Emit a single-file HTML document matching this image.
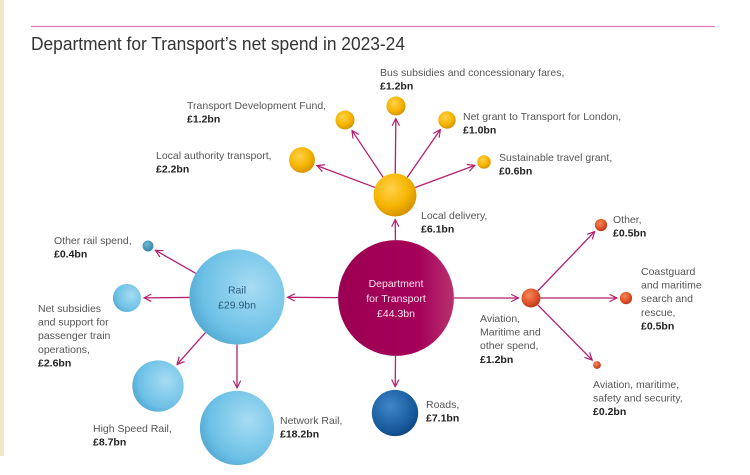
<!DOCTYPE html>
<html><head><meta charset="utf-8">
<style>
html,body{margin:0;padding:0;background:#fff;}
svg{display:block;font-family:"Liberation Sans",sans-serif;}
</style></head>
<body>
<svg id="chart" width="750" height="475" viewBox="0 0 750 475">
<defs>
<radialGradient id="gYel" cx="40%" cy="35%" r="70%"><stop offset="0" stop-color="#ffd24a"/><stop offset="0.6" stop-color="#f5b400"/><stop offset="1" stop-color="#d08e00"/></radialGradient>
<radialGradient id="gBlue" cx="65%" cy="40%" r="75%"><stop offset="0" stop-color="#a6dcf3"/><stop offset="0.7" stop-color="#6cc0e6"/><stop offset="1" stop-color="#4a9fc9"/></radialGradient>
<radialGradient id="gTeal" cx="40%" cy="35%" r="75%"><stop offset="0" stop-color="#6cb8d6"/><stop offset="1" stop-color="#2f7fa3"/></radialGradient>
<radialGradient id="gDark" cx="40%" cy="35%" r="75%"><stop offset="0" stop-color="#3f86c8"/><stop offset="0.7" stop-color="#175a9c"/><stop offset="1" stop-color="#0c3e72"/></radialGradient>
<linearGradient id="gDft" x1="0" x2="1" y1="0" y2="0"><stop offset="0" stop-color="#9c0052"/><stop offset="0.7" stop-color="#a5005a"/><stop offset="1" stop-color="#b8326e"/></linearGradient>
<radialGradient id="gOr" cx="40%" cy="35%" r="70%"><stop offset="0" stop-color="#f58a5a"/><stop offset="0.6" stop-color="#e0522a"/><stop offset="1" stop-color="#b03618"/></radialGradient>
<marker id="arr" viewBox="0 0 10 10" refX="9" refY="5" markerWidth="7" markerHeight="7" orient="auto"><path d="M1,1 L9,5 L1,9" fill="none" stroke="#b3206f" stroke-width="1.3"/></marker>
</defs>
<rect x="0" y="0" width="4" height="456" fill="#f3e6c8"/>
<line x1="31" y1="26.5" x2="715" y2="26.5" stroke="#e07bb0" stroke-width="1.2"/>
<text x="31" y="50" font-size="18" fill="#333" textLength="374" lengthAdjust="spacingAndGlyphs">Department for Transport’s net spend in 2023-24</text>
<g id="links"></g>
<g id="bubbles"></g>
<g id="labels"></g>
</svg>
<script>
// data
const names = ["Department for Transport","Rail","Local delivery","Aviation, Maritime and other spend","Roads","Bus subsidies and concessionary fares","Transport Development Fund","Net grant to Transport for London","Local authority transport","Sustainable travel grant","Other","Coastguard and maritime search and rescue","Aviation, maritime, safety and security","Other rail spend","Net subsidies and support for passenger train operations","High Speed Rail","Network Rail"];
const values = [44.3,29.9,6.1,1.2,7.1,1.2,1.2,1.0,2.2,0.6,0.5,0.5,0.2,0.4,2.6,8.7,18.2];
const valueLabels = ["£44.3bn","£29.9bn","£6.1bn","£1.2bn","£7.1bn","£1.2bn","£1.2bn","£1.0bn","£2.2bn","£0.6bn","£0.5bn","£0.5bn","£0.2bn","£0.4bn","£2.6bn","£8.7bn","£18.2bn"];
const parents = [-1,0,0,0,0,2,2,2,2,2,3,3,3,1,1,1,1];
// layout (positions only)
const cx = [396,237,395,531,395,396,345,447,302,484,601,626,597,148,127,158,237];
const cy = [298,297,195,298,413,106,120,120,160,162,225,298,365,246,298,386,428];
const fills = ["url(#gDft)","url(#gBlue)","url(#gYel)","url(#gOr)","url(#gDark)","url(#gYel)","url(#gYel)","url(#gYel)","url(#gYel)","url(#gYel)","url(#gOr)","url(#gOr)","url(#gOr)","url(#gTeal)","url(#gBlue)","url(#gBlue)","url(#gBlue)"];
const labelX = [0,0,421,480,426,380,187,463,156,499,613,641,593,54,38,93,280];
const labelY = [0,0,215,318,404,72,105,116,155,157,219,271,384,240,308,428,420];
const labelLines = [null,null,["Local delivery,"],["Aviation,","Maritime and","other spend,"],["Roads,"],["Bus subsidies and concessionary fares,"],["Transport Development Fund,"],["Net grant to Transport for London,"],["Local authority transport,"],["Sustainable travel grant,"],["Other,"],["Coastguard","and maritime","search and","rescue,"],["Aviation, maritime,","safety and security,"],["Other rail spend,"],["Net subsidies","and support for","passenger train","operations,"],["High Speed Rail,"],["Network Rail,"]];
const K = 8.7;
const rOf = v => Math.sqrt(v) * K;
const NS = "http://www.w3.org/2000/svg";
const gL = document.getElementById("links"), gB = document.getElementById("bubbles"), gT = document.getElementById("labels");
function mk(tag, attrs){const e=document.createElementNS(NS,tag);for(const k in attrs)e.setAttribute(k,attrs[k]);return e;}
values.forEach((v,i)=>{
  const p = parents[i];
  if(p>=0){
    const dx=cx[i]-cx[p], dy=cy[i]-cy[p], d=Math.hypot(dx,dy), ux=dx/d, uy=dy/d;
    const rp=rOf(values[p]), rc=rOf(v);
    const ln = mk("line",{x1:cx[p]+ux*rp,y1:cy[p]+uy*rp,x2:cx[i]-ux*(rc+3),y2:cy[i]-uy*(rc+3),stroke:"#b3206f","stroke-width":1.3,"marker-end":"url(#arr)"});
    
    
    gL.appendChild(ln);
  }
  const c = mk("circle",{cx:cx[i],cy:cy[i],r:rOf(v),fill:fills[i]});
  
  
  gB.appendChild(c);
  if(labelLines[i]){
    const t = mk("text",{x:labelX[i],y:labelY[i]+4,"font-size":10.5,fill:"#555"});
    
    
    labelLines[i].forEach((s,k)=>{const ts=mk("tspan",{x:labelX[i],dy:k?13.6:0});ts.textContent=s;t.appendChild(ts);});
    const vs=mk("tspan",{x:labelX[i],dy:13.6,"font-weight":"bold",fill:"#222"});vs.textContent=valueLabels[i];t.appendChild(vs);
    gT.appendChild(t);
  }
});
// inner labels
function inner(i, lines){
  const t = mk("text",{x:cx[i],y:cy[i]-(lines.length-1)*7.5+4,"font-size":10.5,fill:i===0?"#fbe3ef":"#2a5d7a","text-anchor":"middle"});
  
  
  lines.forEach((s,k)=>{const ts=mk("tspan",{x:cx[i],dy:k?15:0});ts.textContent=s;t.appendChild(ts);});
  gT.appendChild(t);
}
inner(0,["Department","for Transport",valueLabels[0]]);
inner(1,["Rail",valueLabels[1]]);
</script>
</body></html>
